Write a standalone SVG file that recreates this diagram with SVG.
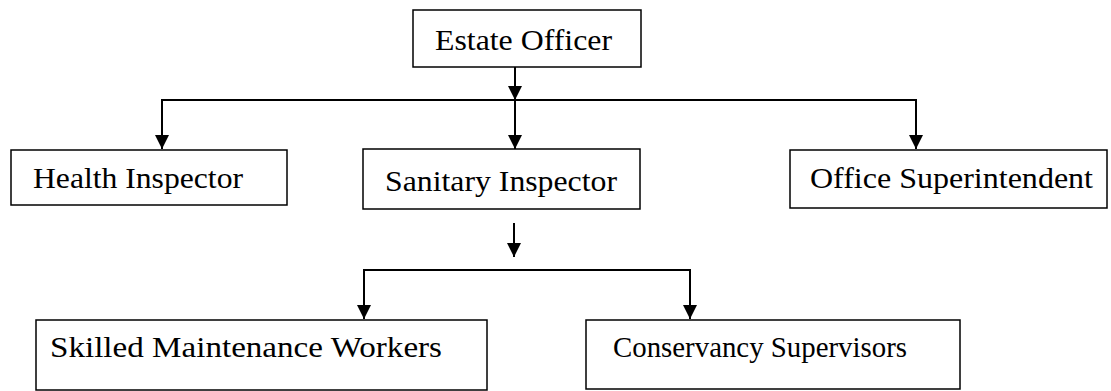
<svg xmlns="http://www.w3.org/2000/svg" width="1111" height="391" viewBox="0 0 1111 391">
<style>
.box{fill:#fff;stroke:#000;stroke-width:1.5}
.lbl{font-family:"Liberation Serif","Times New Roman",serif;font-size:30px;fill:#000}
.conn{fill:none;stroke:#000;stroke-width:2}
</style>
<defs>
<marker id="arr" markerUnits="userSpaceOnUse" markerWidth="14" markerHeight="14" viewBox="0 0 14 14" refX="14" refY="7" orient="auto">
<path d="M0,0 L14,7 L0,14 Z" fill="#000"/>
</marker>
</defs>
<rect width="1111" height="391" fill="#fff"/>
<g id="connectors">
<line class="conn" x1="515" y1="67" x2="515" y2="100" marker-end="url(#arr)"/>
<path class="conn" d="M515,100 L162,100 L162,149" marker-end="url(#arr)"/>
<path class="conn" d="M515,100 L916,100 L916,149" marker-end="url(#arr)"/>
<line class="conn" x1="515" y1="100" x2="515" y2="149" marker-end="url(#arr)"/>
<line class="conn" x1="514" y1="223" x2="514" y2="257" marker-end="url(#arr)"/>
<path class="conn" d="M690,270 L364,270 L364,319" marker-end="url(#arr)"/>
<path class="conn" d="M364,270 L690,270 L690,319" marker-end="url(#arr)"/>
</g>
<g id="estate-officer">
<rect class="box" x="413" y="10" width="228" height="57"/>
<text class="lbl" x="435" y="50" textLength="177" lengthAdjust="spacingAndGlyphs">Estate Officer</text>
</g>
<g id="health-inspector">
<rect class="box" x="11" y="150" width="276" height="55"/>
<text class="lbl" x="33" y="188" textLength="210" lengthAdjust="spacingAndGlyphs">Health Inspector</text>
</g>
<g id="sanitary-inspector">
<rect class="box" x="363" y="149" width="277" height="60"/>
<text class="lbl" x="385" y="191" textLength="232" lengthAdjust="spacingAndGlyphs">Sanitary Inspector</text>
</g>
<g id="office-superintendent">
<rect class="box" x="790" y="150" width="317" height="58"/>
<text class="lbl" x="810" y="188" textLength="283" lengthAdjust="spacingAndGlyphs">Office Superintendent</text>
</g>
<g id="skilled-maintenance-workers">
<rect class="box" x="36" y="320" width="451" height="70"/>
<text class="lbl" x="50" y="357" textLength="392" lengthAdjust="spacingAndGlyphs">Skilled Maintenance Workers</text>
</g>
<g id="conservancy-supervisors">
<rect class="box" x="586" y="320" width="374" height="69"/>
<text class="lbl" x="613" y="357" textLength="294" lengthAdjust="spacingAndGlyphs">Conservancy Supervisors</text>
</g>
</svg>
